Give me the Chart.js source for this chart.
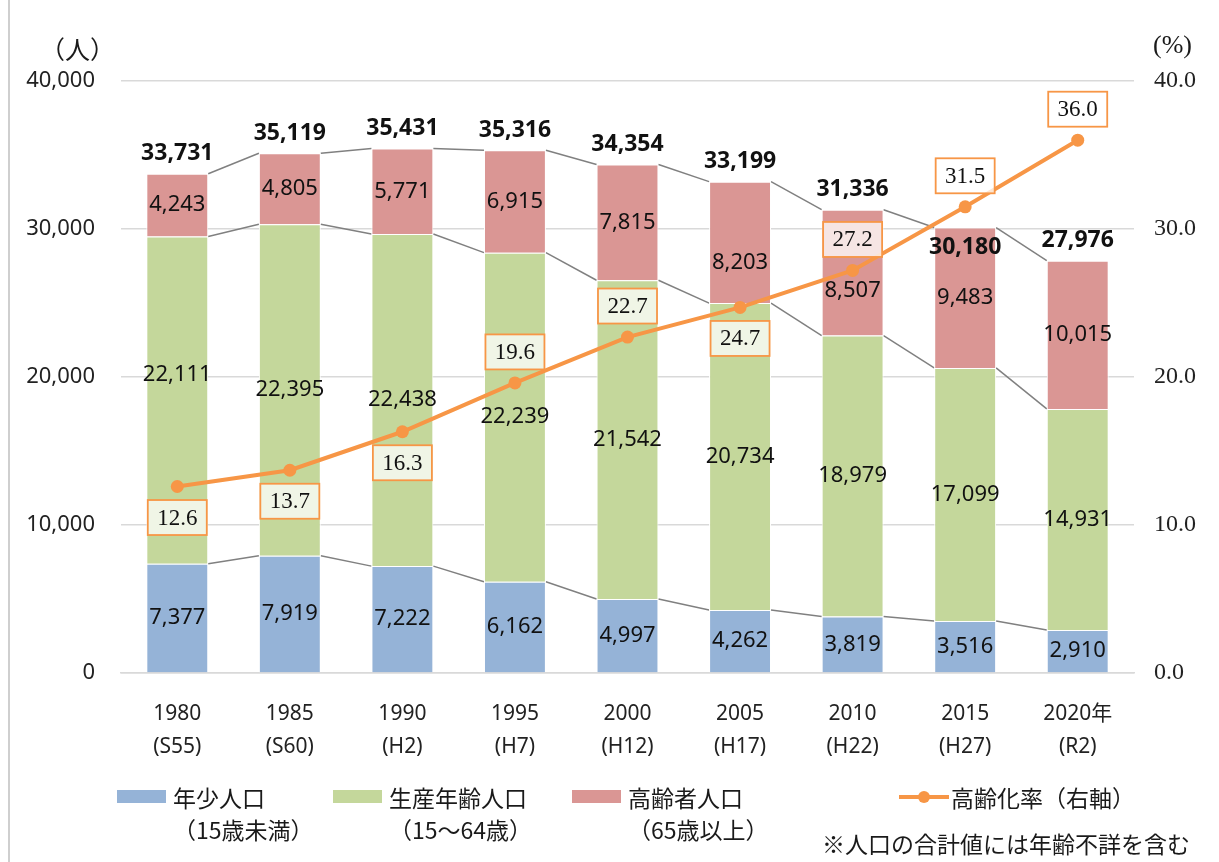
<!DOCTYPE html>
<html lang="ja">
<head>
<meta charset="utf-8">
<script src="https://cdn.jsdelivr.net/npm/chart.js@4.4.1/dist/chart.umd.min.js"></script>
<style>
  html, body { margin:0; padding:0; background:#fff; }
  #wrap { position:relative; width:1219px; height:862px; overflow:hidden; font-family:'Noto Sans CJK JP','Noto Sans',sans-serif; color:#1a1a1a; }
  #c { position:absolute; left:0; top:0; }
  .abs { position:absolute; white-space:nowrap; }
  .frame { position:absolute; left:8px; top:0; width:1.5px; height:862px; background:#cfcfcf; }
  .unitL { left:40px; top:30px; font-size:25px; width:60px; text-align:right; }
  .unitR { left:1153px; top:30px; font-size:26px; font-family:'Liberation Serif',serif; }
  .lg { position:absolute; top:781px; font-size:23px; line-height:32px; }
  .sw { position:absolute; top:790px; width:49px; height:13px; }
  .note { left:822px; top:826px; font-size:23px; }
</style>
</head>
<body>
<div id="wrap">
  <canvas id="c" width="1219" height="862"></canvas>
  <div class="frame"></div>
  <div class="abs unitL">（人）</div>
  <div class="abs unitR">(%)</div>

  <div class="sw" style="left:117px;background:#95b3d7"></div>
  <div class="lg" style="left:173px">年少人口<br>（15歳未満）</div>
  <div class="sw" style="left:333px;background:#c4d79b"></div>
  <div class="lg" style="left:389px">生産年齢人口<br>（15～64歳）</div>
  <div class="sw" style="left:572px;background:#da9694"></div>
  <div class="lg" style="left:628px">高齢者人口<br>（65歳以上）</div>
  <svg class="abs" style="left:898px;top:786px" width="52" height="22"><line x1="1" y1="11" x2="51" y2="11" stroke="#f79646" stroke-width="4"/><circle cx="26" cy="11" r="6" fill="#f79646"/></svg>
  <div class="lg" style="left:951px">高齢化率（右軸）</div>
  <div class="abs note">※人口の合計値には年齢不詳を含む</div>
</div>
<script>
const years = ['1980','1985','1990','1995','2000','2005','2010','2015','2020年'];
const eras = ['(S55)','(S60)','(H2)','(H7)','(H12)','(H17)','(H22)','(H27)','(R2)'];
const young = [7377, 7919, 7222, 6162, 4997, 4262, 3819, 3516, 2910];
const working = [22111, 22395, 22438, 22239, 21542, 20734, 18979, 17099, 14931];
const elderly = [4243, 4805, 5771, 6915, 7815, 8203, 8507, 9483, 10015];
const totals = [33731, 35119, 35431, 35316, 34354, 33199, 31336, 30180, 27976];
const rate = [12.6, 13.7, 16.3, 19.6, 22.7, 24.7, 27.2, 31.5, 36.0];
const leftTicks = [0, 10000, 20000, 30000, 40000];
const rightTicks = [0, 10, 20, 30, 40];

const labels = years.map((y, i) => [y, eras[i]]);
const NUM_FONT = "'Noto Sans','Noto Sans CJK JP',sans-serif";
const fmt = v => v.toLocaleString('en-US');

// label placement tweaks (style only)
const rateSide = [1, 1, 1, -1, -1, 1, -1, -1, -1];      // 1 = below point, -1 = above
const innerShift = { 1: {0: -25}, 2: {5: 20, 6: 18} }; // dataset -> index -> px
const totalSide = [-1, -1, -1, -1, -1, -1, -1, 1, -1];

const overlay = {
  id: 'overlay',
  beforeDatasetsDraw(chart) {
    const ctx = chart.ctx;
    ctx.save();
    ctx.strokeStyle = '#808080';
    ctx.lineWidth = 1.5;
    for (let d = 0; d < 3; d++) {
      const els = chart.getDatasetMeta(d).data;
      for (let i = 0; i < els.length - 1; i++) {
        const a = els[i], b = els[i + 1];
        ctx.beginPath();
        ctx.moveTo(a.x + a.width / 2, a.y);
        ctx.lineTo(b.x - b.width / 2, b.y);
        ctx.stroke();
      }
    }
    ctx.restore();
  },
  afterDatasetsDraw(chart) {
    const ctx = chart.ctx;
    ctx.save();
    ctx.textAlign = 'center';
    ctx.textBaseline = 'middle';
    ctx.fillStyle = '#111';
    ctx.font = `22px ${NUM_FONT}`;
    for (let d = 0; d < 3; d++) {
      const meta = chart.getDatasetMeta(d);
      const vals = chart.data.datasets[d].data;
      meta.data.forEach((el, i) => {
        const sh = (innerShift[d] && innerShift[d][i]) || 0;
        ctx.fillText(fmt(vals[i]), el.x, (el.y + el.base) / 2 + sh);
      });
    }
    ctx.font = `bold 23px ${NUM_FONT}`;
    const top = chart.getDatasetMeta(2).data;
    top.forEach((el, i) => {
      ctx.fillText(fmt(totals[i]), el.x, el.y + totalSide[i] * 20);
    });
    // rate labels
    const pts = chart.getDatasetMeta(3).data;
    ctx.font = "23px 'Liberation Serif',serif";
    pts.forEach((p, i) => {
      const cy = p.y + rateSide[i] * 31;
      const w = 59, h = 35;
      ctx.fillStyle = 'rgba(255,255,255,0.75)';
      ctx.fillRect(p.x - w / 2, cy - h / 2, w, h);
      ctx.strokeStyle = '#f79646';
      ctx.lineWidth = 1.8;
      ctx.strokeRect(p.x - w / 2, cy - h / 2, w, h);
      ctx.fillStyle = '#111';
      ctx.fillText(rate[i].toFixed(1), p.x, cy + 1);
    });
    ctx.restore();
  }
};

new Chart(document.getElementById('c'), {
  data: {
    labels: labels,
    datasets: [
      { type: 'bar', label: '年少人口', data: young, backgroundColor: '#95b3d7', borderColor: '#ffffff', borderWidth: 1, yAxisID: 'y', order: 1 },
      { type: 'bar', label: '生産年齢人口', data: working, backgroundColor: '#c4d79b', borderColor: '#ffffff', borderWidth: 1, yAxisID: 'y', order: 1 },
      { type: 'bar', label: '高齢者人口', data: elderly, backgroundColor: '#da9694', borderColor: '#ffffff', borderWidth: 1, yAxisID: 'y', order: 1 },
      { type: 'line', label: '高齢化率（右軸）', data: rate, borderColor: '#f79646', backgroundColor: '#f79646', borderWidth: 4, pointRadius: 6.5, pointHoverRadius: 6.5, pointBorderWidth: 0, yAxisID: 'y2', order: 0, tension: 0 }
    ]
  },
  options: {
    responsive: false,
    animation: false,
    layout: { padding: { top: 81, left: 0, right: 0, bottom: 0 } },
    plugins: { legend: { display: false }, tooltip: { enabled: false } },
    datasets: { bar: { categoryPercentage: 1, barPercentage: 0.55 } },
    scales: {
      x: {
        stacked: true,
        grid: { display: false },
        border: { display: true, color: '#d9d9d9', width: 1.5 },
        ticks: { color: '#222', font: { family: NUM_FONT, size: 21, lineHeight: 1.6 }, padding: 16, maxRotation: 0 },
        afterFit: s => { s.height = 189; }
      },
      y: {
        stacked: true,
        position: 'left',
        min: 0, max: 40000,
        afterBuildTicks: s => { s.ticks = leftTicks.map(v => ({ value: v })); },
        grid: { color: '#d9d9d9', lineWidth: 1.5, drawTicks: false },
        border: { display: false },
        ticks: { color: '#222', font: { family: NUM_FONT, size: 22 }, padding: 26, callback: v => fmt(v) },
        afterFit: s => { s.width = 121; }
      },
      y2: {
        position: 'right',
        min: 0, max: 40,
        afterBuildTicks: s => { s.ticks = rightTicks.map(v => ({ value: v })); },
        grid: { display: false, drawTicks: false },
        border: { display: false },
        ticks: { color: '#222', font: { family: "'Liberation Serif',serif", size: 24 }, padding: 20, callback: v => Number(v).toFixed(1) },
        afterFit: s => { s.width = 85; }
      }
    }
  },
  plugins: [overlay]
});
</script>
</body>
</html>
